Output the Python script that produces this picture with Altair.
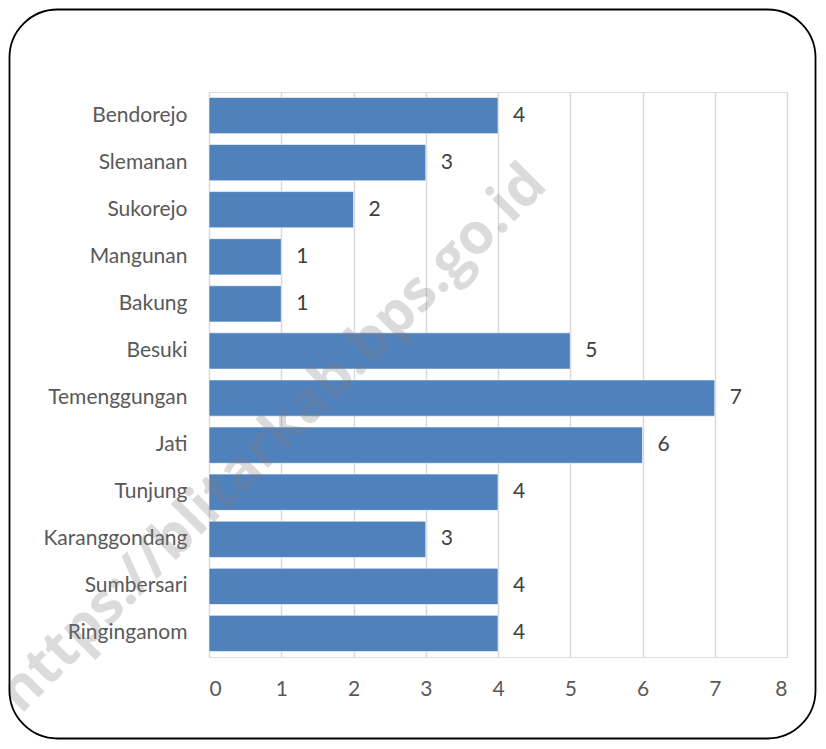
import altair as alt
import pandas as pd

categories = ["Bendorejo", "Slemanan", "Sukorejo", "Mangunan", "Bakung", "Besuki",
              "Temenggungan", "Jati", "Tunjung", "Karanggondang", "Sumbersari", "Ringinganom"]
values = [4, 3, 2, 1, 1, 5, 7, 6, 4, 3, 4, 4]
x_ticks = [0, 1, 2, 3, 4, 5, 6, 7, 8]
watermark = "https://blitarkab.bps.go.id"

df = pd.DataFrame({"cat": categories, "val": values})

FONT = "Lato"
FS = 21
W, H = 578, 565
PL, PT, PR, PB = 201, 84, 30, 83
TOTAL_W = PL + W + PR
TOTAL_H = PT + H + PB

base = alt.Chart(df)

bars = base.mark_bar(color="#4f81bd", stroke="#ffffff", strokeWidth=0.6).encode(
    y=alt.Y("cat:N", sort=categories,
            scale=alt.Scale(paddingInner=0.23, paddingOuter=0.115),
            axis=alt.Axis(title=None, ticks=False, domain=False, labelPadding=22,
                          labelFontSize=FS, labelColor="#595959", labelFont=FONT,
                          grid=False)),
    x=alt.X("val:Q", scale=alt.Scale(domain=[0, 8], nice=False),
            axis=alt.Axis(title=None, values=x_ticks, ticks=False, domain=False,
                          labelPadding=21, labelFontSize=FS, labelColor="#595959",
                          labelFont=FONT, grid=True, gridColor="#d9d9d9",
                          gridWidth=1.5, format="d")),
)

labels = base.mark_text(align="left", baseline="middle", dx=15, fontSize=FS,
                        color="#404040", font=FONT).encode(
    y=alt.Y("cat:N", sort=categories),
    x=alt.X("val:Q"),
    text=alt.Text("val:Q"),
)

border = alt.Chart(pd.DataFrame({"b": [0]})).mark_rect(
    fill=None, fillOpacity=0, stroke="#000000", strokeWidth=1.8, cornerRadius=48
).encode(
    x=alt.value(-PL + 1.5), x2=alt.value(TOTAL_W - PL - 1.5),
    y=alt.value(-PT + 1.5), y2=alt.value(TOTAL_H - PT - 1.5),
)

wm = alt.Chart(pd.DataFrame({"t": [watermark]})).mark_text(
    angle=315, fontSize=57, fontWeight="bold", font="Open Sans",
    color="#7f7f7f", opacity=0.28, align="center", baseline="middle"
).encode(
    text="t:N",
    x=alt.value(64), y=alt.value(347),
)

chart = alt.layer(bars, labels, wm, border).properties(
    width=W, height=H,
    autosize=alt.AutoSizeParams(type="none"),
    padding={"left": PL, "top": PT, "right": PR, "bottom": PB},
).configure_view(stroke=None).configure(background="#ffffff")

chart.save("out.html", embed_options={"renderer": "svg", "actions": False})
